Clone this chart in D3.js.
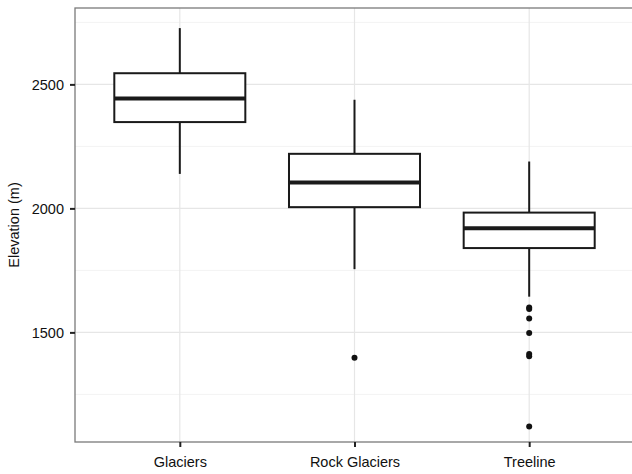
<!DOCTYPE html>
<html>
<head>
<meta charset="utf-8">
<script src="https://cdn.jsdelivr.net/npm/d3@7"></script>
<style>
  body { margin: 0; background: #fff; }
  svg { display: block; font-family: "Liberation Sans", Arial, sans-serif; }
</style>
</head>
<body>
<svg class="chart"></svg>
<script>
let categories = ["Glaciers", "Rock Glaciers", "Treeline"];
let whiskerLow = [2139, 1755, 1644];
let q1 = [2348, 2005, 1840];
let median = [2443, 2104, 1920];
let q3 = [2545, 2220, 1983];
let whiskerHigh = [2727, 2438, 2189];
let outliers = [
  [],
  [1398],
  [1600, 1594, 1556, 1498, 1413, 1404, 1121]
];
let majorTicks = [1500, 2000, 2500];
let minorTicks = [1250, 1750, 2250, 2750];

let w = 632, h = 474;
let pLeft = 75, pTop = 8, pRight = 634, pBottom = 442;

var svg = d3.select(".chart")
            .attr("width", w)
            .attr("height", h);

var xS = d3.scalePoint()
           .domain(categories)
           .range([pLeft, pRight])
           .padding(0.6);

var yS = d3.scaleLinear()
           .domain([1058, 2808])
           .range([pBottom, pTop]);

var boxW = xS.step() * 0.75;

// grid
svg.append("g").selectAll("line")
   .data(minorTicks).enter().append("line")
   .attr("x1", pLeft).attr("x2", pRight)
   .attr("y1", d => yS(d)).attr("y2", d => yS(d))
   .attr("stroke", "#f3f3f3").attr("stroke-width", 1);

svg.append("g").selectAll("line")
   .data(majorTicks).enter().append("line")
   .attr("x1", pLeft).attr("x2", pRight)
   .attr("y1", d => yS(d)).attr("y2", d => yS(d))
   .attr("stroke", "#e6e6e6").attr("stroke-width", 1.2);

svg.append("g").selectAll("line")
   .data(categories).enter().append("line")
   .attr("x1", d => xS(d)).attr("x2", d => xS(d))
   .attr("y1", pTop).attr("y2", pBottom)
   .attr("stroke", "#e6e6e6").attr("stroke-width", 1.2);

// boxes
var boxes = svg.append("g").selectAll("g")
   .data(categories).enter().append("g");

boxes.append("line")
   .attr("x1", d => xS(d)).attr("x2", d => xS(d))
   .attr("y1", (d, i) => yS(whiskerHigh[i])).attr("y2", (d, i) => yS(q3[i]))
   .attr("stroke", "#1a1a1a").attr("stroke-width", 2);

boxes.append("line")
   .attr("x1", d => xS(d)).attr("x2", d => xS(d))
   .attr("y1", (d, i) => yS(q1[i])).attr("y2", (d, i) => yS(whiskerLow[i]))
   .attr("stroke", "#1a1a1a").attr("stroke-width", 2);

boxes.append("rect")
   .attr("x", d => xS(d) - boxW / 2)
   .attr("width", boxW)
   .attr("y", (d, i) => yS(q3[i]))
   .attr("height", (d, i) => yS(q1[i]) - yS(q3[i]))
   .attr("fill", "#fff")
   .attr("stroke", "#1a1a1a").attr("stroke-width", 2);

boxes.append("line")
   .attr("x1", d => xS(d) - boxW / 2).attr("x2", d => xS(d) + boxW / 2)
   .attr("y1", (d, i) => yS(median[i])).attr("y2", (d, i) => yS(median[i]))
   .attr("stroke", "#1a1a1a").attr("stroke-width", 4);

boxes.selectAll("circle")
   .data((d, i) => outliers[i].map(v => [d, v]))
   .enter().append("circle")
   .attr("cx", d => xS(d[0]))
   .attr("cy", d => yS(d[1]))
   .attr("r", 3)
   .attr("fill", "#111");

// panel border
svg.append("rect")
   .attr("x", pLeft).attr("y", pTop)
   .attr("width", pRight - pLeft).attr("height", pBottom - pTop)
   .attr("fill", "none")
   .attr("stroke", "#7a7a7a").attr("stroke-width", 1.3);

// axes
var yAxis = svg.append("g")
   .attr("transform", "translate(" + pLeft + ",0)")
   .call(d3.axisLeft(yS).tickValues(majorTicks).tickFormat(d3.format("d"))
           .tickSize(5).tickPadding(6));
yAxis.select(".domain").remove();
yAxis.selectAll(".tick line").attr("stroke", "#222").attr("stroke-width", 2);
yAxis.selectAll("text").attr("font-size", "14.5px").attr("fill", "#111")
   .style("font-family", "'Liberation Sans', Arial, sans-serif");

var xAxis = svg.append("g")
   .attr("transform", "translate(0," + pBottom + ")")
   .call(d3.axisBottom(xS).tickSize(5).tickPadding(10));
xAxis.select(".domain").remove();
xAxis.selectAll(".tick line").attr("stroke", "#222").attr("stroke-width", 2);
xAxis.selectAll("text").attr("font-size", "14.5px").attr("fill", "#111")
   .style("font-family", "'Liberation Sans', Arial, sans-serif");

svg.append("text")
   .attr("transform", "translate(15," + ((pTop + pBottom) / 2) + ") rotate(-90)")
   .attr("text-anchor", "middle")
   .attr("dominant-baseline", "middle")
   .attr("font-size", "14.5px")
   .attr("fill", "#111")
   .text("Elevation (m)");
</script>
</body>
</html>
